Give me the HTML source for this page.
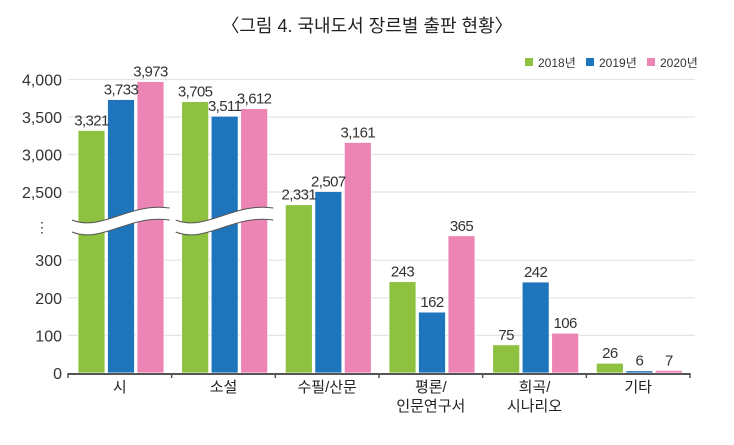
<!DOCTYPE html>
<html><head><meta charset="utf-8"><style>
body{margin:0;background:#fff;}
svg text{font-family:"Liberation Sans","Noto Sans CJK KR",sans-serif;}
</style></head><body>
<svg width="734" height="440">
<text x="367" y="32" text-anchor="middle" font-size="18" fill="#222">〈그림 4. 국내도서 장르별 출판 현황〉</text>
<g id="legend"></g>
<g id="grid"></g><g id="bars"></g><g id="labels"></g><g id="axis"></g>
</svg>
<script>
const categories=["시","소설","수필/산문","평론/\n인문연구서","희곡/\n시나리오","기타"];
const years=["2018년","2019년","2020년"];
const s2018=[3321,3705,2331,243,75,26];
const s2019=[3733,3511,2507,162,242,6];
const s2020=[3973,3612,3161,365,106,7];
const lowTicks=[0,100,200,300];
const highTicks=[2500,3000,3500,4000];
const colors=["#8dc13f","#1f75bc","#ec85b4"];
const series=[s2018,s2019,s2020];
const NS="http://www.w3.org/2000/svg";
const x0=68,x1=690,yBase=373;
function yLow(v){return yBase-v*0.376;}
function yHigh(v){return 192-(v-2500)*0.075;}
function yv(v){return v>1000?yHigh(v):yLow(v);}
const bw=(x1-x0)/categories.length;
function mk(tag,attrs,parent,txt){const e=document.createElementNS(NS,tag);for(const k in attrs)e.setAttribute(k,attrs[k]);if(txt!=null)e.textContent=txt;document.getElementById(parent).appendChild(e);return e;}
const grid="grid";
lowTicks.concat(highTicks).forEach(t=>{
  const y=t>1000?yHigh(t):yLow(t);
  if(t>0){const l=mk("line",{x1:x0,x2:695,y1:y,y2:y,stroke:"#e3e3e3","stroke-width":1.2},grid);
  
  }
  const tx=mk("text",{x:62,y:y+6,"text-anchor":"end","font-size":16,fill:"#333"},grid,t.toLocaleString("en-US"));
  
  
});
const dots=mk("text",{x:42,y:232,"text-anchor":"middle","font-size":14,fill:"#333"},grid,"⋮");


categories.forEach((c,i)=>{
  const gx=x0+i*bw;
  series.forEach((s,j)=>{
    const x=gx+10+j*29.5, y=yv(s[i]);
    const r=mk("rect",{x:x,y:y,width:27,height:yBase-y,fill:colors[j],stroke:"#fff","stroke-width":0.8},"bars");
    
    
    const t=mk("text",{x:x+13.5,y:y-5,"text-anchor":"middle","font-size":15,fill:"#333","letter-spacing":"-0.6"},"labels",s[i].toLocaleString("en-US"));
    
    
  });
  if(series.every(s=>s[i]>2500)){
    const a=gx+4,b=gx+bw-2;
    const p=mk("path",{d:`M${a},${232} C${a+30},${244} ${b-40},${214} ${b},${220} L${b},${208} C${b-40},${202} ${a+30},${232} ${a},${220} Z`,fill:"#fff",stroke:"none"},"bars");
    
    
    mk("path",{d:`M${a},${232} C${a+30},${244} ${b-40},${214} ${b},${220}`,fill:"none",stroke:"#555","stroke-width":1},"bars");
    mk("path",{d:`M${a},${220} C${a+30},${232} ${b-40},${202} ${b},${208}`,fill:"none",stroke:"#555","stroke-width":1},"bars");
  }
  const lines=c.split("\n");
  lines.forEach((ln,k)=>{
    const t=mk("text",{x:gx+bw/2,y:392+k*19,"text-anchor":"middle","font-size":15,fill:"#222"},"axis",ln);
    
    
  });
});
const ax=mk("line",{x1:x0,x2:x1,y1:yBase+1,y2:yBase+1,stroke:"#555","stroke-width":2},"axis");


for(let i=0;i<=categories.length;i++){mk("line",{x1:x0+i*bw,x2:x0+i*bw,y1:yBase,y2:yBase+5,stroke:"#555","stroke-width":1.5},"axis");}
const lx=[525,586,647];
years.forEach((y,j)=>{
  const r=mk("rect",{x:lx[j],y:58,width:8,height:8,fill:colors[j]},"legend");
  
  
  const t=mk("text",{x:lx[j]+13,y:67,"font-size":12,fill:"#333"},"legend",y);
  
  
});
</script>
</body></html>
